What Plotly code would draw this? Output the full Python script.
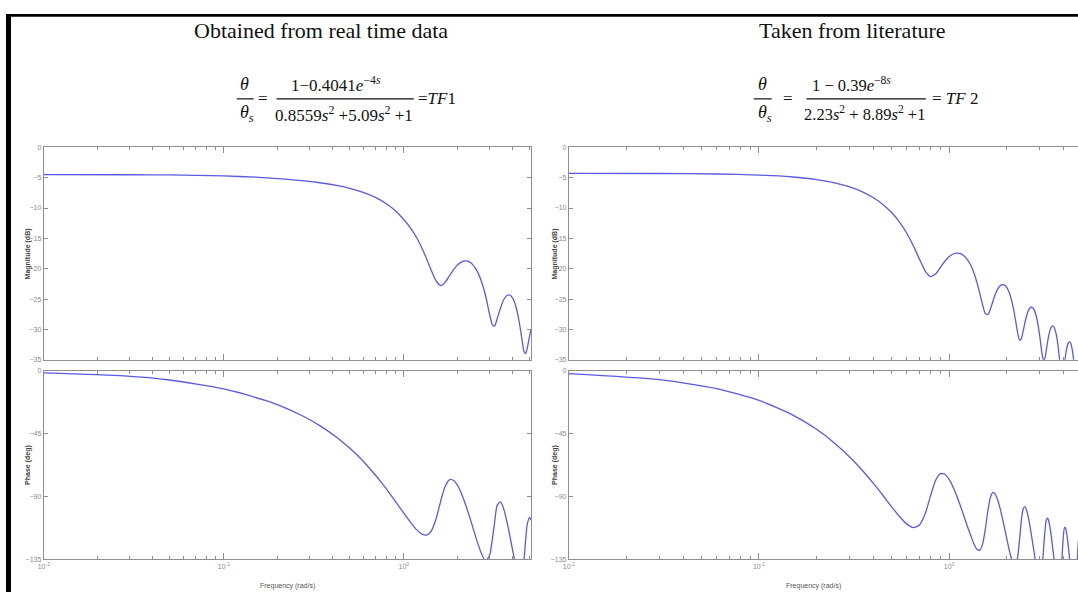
import plotly.graph_objects as go

W, H = 1078, 595

# ---------------- data ----------------
panel_titles = ["Obtained from real time data", "Taken from literature"]

# TF1 (left) magnitude: frequency (rad/s), magnitude (dB)
tf1_mag_w = [0.01, 0.03, 0.05, 0.1, 0.15, 0.2, 0.28, 0.35, 0.43, 0.5,
             0.6, 0.7, 0.8, 0.9, 1.0, 1.1, 1.18, 1.26, 1.34, 1.42,
             1.5, 1.58, 1.62, 1.7, 1.8, 1.9, 2.0, 2.1, 2.2, 2.3,
             2.4, 2.55, 2.7, 2.85, 3.0, 3.1, 3.15, 3.2, 3.3, 3.45,
             3.6, 3.75, 3.9, 4.05, 4.2, 4.35, 4.5, 4.65, 4.75, 4.85,
             5.0, 5.09]
tf1_mag_db = [-4.5, -4.52, -4.56, -4.72, -4.93, -5.16, -5.53, -5.88, -6.32, -6.75,
              -7.46, -8.3, -9.3, -10.48, -11.9, -13.47, -14.9, -16.6, -18.4, -20.25,
              -21.84, -22.69, -22.75, -22.2, -21.1, -20.07, -19.32, -18.87, -18.71, -18.84,
              -19.24, -20.36, -22.11, -24.5, -27.6, -29.2, -29.45, -29.4, -28.26, -26.42,
              -25.03, -24.37, -24.37, -25.0, -26.3, -28.3, -31.0, -33.6, -34.0, -33.1,
              -31.06, -30.0]

# TF1 (left) phase: frequency (rad/s), phase (deg)
tf1_ph_w = [0.01, 0.028, 0.05, 0.1, 0.17, 0.2, 0.28, 0.35, 0.43, 0.5,
            0.55, 0.6, 0.7, 0.75, 0.8, 0.9, 1.0, 1.1, 1.18, 1.26,
            1.34, 1.42, 1.5, 1.58, 1.62, 1.7, 1.8, 1.9, 2.0, 2.1,
            2.2, 2.3, 2.4, 2.55, 2.7, 2.85, 3.0, 3.1, 3.2, 3.3,
            3.45, 3.6, 3.75, 3.9, 4.05, 4.2, 4.35, 4.5, 4.65, 4.75,
            4.85, 5.0, 5.09]
tf1_ph_deg = [-1.6, -3.8, -6.7, -13.1, -21.3, -24.5, -33.0, -40.2, -48.3, -55.4,
              -60.4, -65.35, -75.16, -79.9, -84.6, -93.65, -102.0, -109.24, -113.9, -116.94,
              -117.6, -114.7, -107.36, -96.6, -91.1, -82.55, -77.9, -78.7, -82.7, -88.6,
              -95.6, -103.07, -110.7, -121.76, -130.9, -136.1, -131.9, -121.0, -107.76, -96.35,
              -93.86, -99.4, -108.66, -119.4, -130.34, -140.2, -147.3, -147.99, -135.8, -121.3,
              -109.95, -104.9, -106.8]

# TF2 (right): frequency (rad/s), magnitude (dB), phase (deg)
tf2_w = [0.01, 0.03, 0.06, 0.1, 0.15, 0.2, 0.25, 0.3, 0.35, 0.4,
         0.45, 0.5, 0.55, 0.6, 0.65, 0.7, 0.75, 0.8, 0.85, 0.9,
         0.95, 1.0, 1.05, 1.1, 1.15, 1.2, 1.25, 1.3, 1.35, 1.4,
         1.45, 1.5, 1.55, 1.6, 1.65, 1.7, 1.75, 1.8, 1.85, 1.9,
         1.95, 2.0, 2.05, 2.1, 2.15, 2.2, 2.25, 2.3, 2.35, 2.4,
         2.45, 2.5, 2.55, 2.6, 2.65, 2.7, 2.75, 2.8, 2.85, 2.9,
         2.95, 3.0, 3.05, 3.1, 3.15, 3.2, 3.25, 3.3, 3.35, 3.4,
         3.45, 3.5, 3.55, 3.6, 3.65, 3.7, 3.75, 3.8, 3.85, 3.9,
         3.95, 4.0, 4.05, 4.1, 4.15, 4.2, 4.25, 4.3, 4.35, 4.4,
         4.45, 4.5, 4.55, 4.6, 4.65, 4.7, 4.75, 4.8]
tf2_mag_db = [-4.3, -4.32, -4.4, -4.58, -4.89, -5.31, -5.85, -6.52, -7.33, -8.3,
              -9.45, -10.79, -12.37, -14.2, -16.28, -18.5, -20.43, -21.29, -20.84, -19.8,
              -18.77, -18.04, -17.58, -17.42, -17.53, -17.91, -18.56, -19.44, -20.67, -22.24,
              -24.05, -25.94, -27.37, -27.56, -26.63, -25.35, -24.22, -23.37, -22.85, -22.62,
              -22.67, -23.0, -23.6, -24.5, -25.71, -27.23, -29.0, -30.76, -31.8, -31.52,
              -30.33, -28.99, -27.87, -27.06, -26.56, -26.35, -26.43, -26.79, -27.42, -28.37,
              -29.61, -31.17, -32.96, -34.53, -35.17, -34.61, -33.28, -31.96, -30.86, -30.08,
              -29.61, -29.41, -29.54, -29.95, -30.64, -31.63, -32.95, -34.55, -36.3, -37.68,
              -37.9, -36.92, -35.51, -34.22, -33.21, -32.52, -32.14, -32.05, -32.23, -32.7,
              -33.46, -34.53, -35.91, -37.57, -39.26, -40.35, -40.15, -38.9]
tf2_ph_deg = [-2.16, -6.47, -12.88, -21.26, -31.6, -41.79, -51.86, -61.77, -71.39, -80.69,
              -89.48, -97.55, -104.52, -109.79, -112.29, -110.29, -102.07, -89.2, -78.36, -73.66,
              -74.15, -77.82, -83.39, -90.02, -97.19, -104.52, -111.68, -117.93, -123.77, -127.67,
              -128.37, -124.09, -113.53, -100.03, -90.45, -87.09, -88.34, -92.39, -98.03, -104.62,
              -111.61, -118.67, -125.46, -131.66, -136.63, -139.48, -138.75, -132.4, -120.23, -107.09,
              -99.21, -97.25, -99.32, -103.79, -109.64, -116.2, -123.12, -130.04, -136.51, -142.34,
              -146.65, -148.49, -146.16, -137.93, -124.56, -113.26, -106.53, -105.53, -108.1, -112.79,
              -118.72, -125.84, -132.68, -139.45, -145.67, -150.97, -154.61, -155.37, -151.41, -141.18,
              -127.3, -116.6, -112.16, -112.59, -116.0, -121.17, -127.28, -133.93, -140.68, -147.18,
              -153.19, -158.04, -160.91, -160.43, -154.65, -142.7, -128.98, -120.0]

mag_ticks = [0, -5, -10, -15, -20, -25, -30, -35]
phase_ticks = [0, -45, -90, -135]
freq_ticks = [0.01, 0.1, 1]
freq_tick_text = ["10<sup>-2</sup>", "10<sup>-1</sup>", "10<sup>0</sup>"]
minor_ticks = [m * d for d in (0.01, 0.1, 1) for m in range(2, 10)]

# ---------------- styling ----------------
FRAME = "#8e8e8e"
TICKC = "#8a8a8a"
LINEC = "#5a5ae0"


def px(x):
    return x / W


def py(y):
    return 1 - y / H


fig = go.Figure()

series = [
    (tf1_mag_w, tf1_mag_db, "x", "y"),
    (tf1_ph_w, tf1_ph_deg, "x2", "y2"),
    (tf2_w, tf2_mag_db, "x3", "y3"),
    (tf2_w, tf2_ph_deg, "x4", "y4"),
]
for xs, ys, xa, ya in series:
    fig.add_trace(go.Scatter(x=xs, y=ys, xaxis=xa, yaxis=ya, mode="lines",
                             line=dict(color=LINEC, width=1.3, shape="spline", smoothing=0.6),
                             showlegend=False, hoverinfo="skip"))


def xax(dom, rng, labels, anchor):
    return dict(type="log", domain=dom, range=rng, anchor=anchor,
                showgrid=False, zeroline=False, showline=True, linecolor=FRAME, linewidth=1,
                mirror="allticks", ticks="inside", ticklen=6, tickcolor=FRAME,
                tickmode="array", tickvals=freq_ticks, ticktext=freq_tick_text,
                showticklabels=labels, tickfont=dict(size=7, color=TICKC, family="Liberation Sans"),
                minor=dict(ticks="inside", ticklen=3, tickcolor=FRAME,
                           tickvals=minor_ticks, showgrid=False))


def yax(dom, rng, tv, anchor, mirror):
    return dict(domain=dom, range=rng, anchor=anchor,
                showgrid=False, zeroline=False, showline=True, linecolor=FRAME, linewidth=1,
                mirror="allticks" if mirror else False, ticks="inside", ticklen=4, tickcolor=FRAME,
                tickmode="array", tickvals=tv,
                tickfont=dict(size=7, color=TICKC, family="Liberation Sans"))


L0, L1 = 38, 528
R0, R1 = 566, 1078
M_T, M_B = 145, 360
P_T, P_B = 371, 562

left_rng = [-2, 0.707]
right_rng = [-2, 0.678]

fig.update_layout(
    width=W, height=H, margin=dict(l=0, r=0, t=0, b=0),
    paper_bgcolor="white", plot_bgcolor="white",
    xaxis=xax([px(L0), px(L1)], left_rng, False, "y"),
    yaxis=yax([py(M_B), py(M_T)], [-35, 0], mag_ticks, "x", True),
    xaxis2=xax([px(L0), px(L1)], left_rng, True, "y2"),
    yaxis2=yax([py(P_B), py(P_T)], [-135, 0], phase_ticks, "x2", True),
    xaxis3=xax([px(R0), px(R1)], right_rng, False, "y3"),
    yaxis3=yax([py(M_B), py(M_T)], [-35, 0], mag_ticks, "x3", False),
    xaxis4=xax([px(R0), px(R1)], right_rng, True, "y4"),
    yaxis4=yax([py(P_B), py(P_T)], [-135, 0], phase_ticks, "x4", False),
)

ann = []
shapes = []


def text(x, y, s, size, family="Liberation Serif", color="#111", xanchor="center", angle=0):
    ann.append(dict(x=px(x), y=py(y), xref="paper", yref="paper", text=s, showarrow=False,
                    xanchor=xanchor, yanchor="middle", textangle=angle,
                    font=dict(size=size, family=family, color=color)))


def hline(x0, x1, y, w=1.2, color="#111"):
    shapes.append(dict(type="line", xref="paper", yref="paper", x0=px(x0), x1=px(x1),
                       y0=py(y), y1=py(y), line=dict(color=color, width=w)))


# titles
text(317, 27, panel_titles[0], 22)
text(851, 27, panel_titles[1], 22)

# equation TF1
text(240, 81, "<i>θ</i>", 18)
hline(232, 249, 96)
text(242, 111, "<i>θ</i><sub><i>s</i></sub>", 18)
text(258, 96, "=", 17)
text(332, 81, "1−0.4041<i>e</i><sup>−4<i>s</i></sup>", 17)
hline(272, 410, 96)
text(340, 111, "0.8559<i>s</i><sup>2</sup> +5.09<i>s</i><sup>2</sup> +1", 17)
text(412, 96, "=<i>TF</i>1", 17, xanchor="left")

# equation TF2
text(761, 81, "<i>θ</i>", 18)
hline(752, 770, 96)
text(763, 111, "<i>θ</i><sub><i>s</i></sub>", 18)
text(786, 96, "=", 17)
text(850, 81, "1 − 0.39<i>e</i><sup>−8<i>s</i></sup>", 16.5)
hline(805, 925, 96)
text(863, 111, "2.23<i>s</i><sup>2</sup> + 8.89<i>s</i><sup>2</sup> +1", 16.5)
text(929, 96, "= <i>TF</i> 2", 17, xanchor="left")

# axis titles
for xl in (22, 552):
    text(xl, (M_T + M_B) / 2, "<b>Magnitude (dB)</b>", 7, family="Liberation Sans", color="#444", angle=-90)
    text(xl, (P_T + P_B) / 2, "<b>Phase (deg)</b>", 7, family="Liberation Sans", color="#444", angle=-90)
text(283, 589, "Frequency (rad/s)", 7, family="Liberation Sans", color="#555")
text(812, 589, "Frequency (rad/s)", 7, family="Liberation Sans", color="#555")

# black frame (left bar and top line)
shapes.append(dict(type="rect", xref="paper", yref="paper", x0=0, x1=px(5), y0=0, y1=py(10),
                   fillcolor="black", line=dict(width=0)))
shapes.append(dict(type="rect", xref="paper", yref="paper", x0=0, x1=1, y0=py(13), y1=py(10),
                   fillcolor="black", line=dict(width=0)))

fig.update_layout(annotations=ann, shapes=shapes)
fig.write_html("out.html", config={"displayModeBar": False},
               post_script="document.body.style.margin='0';document.body.style.overflow='hidden';")
